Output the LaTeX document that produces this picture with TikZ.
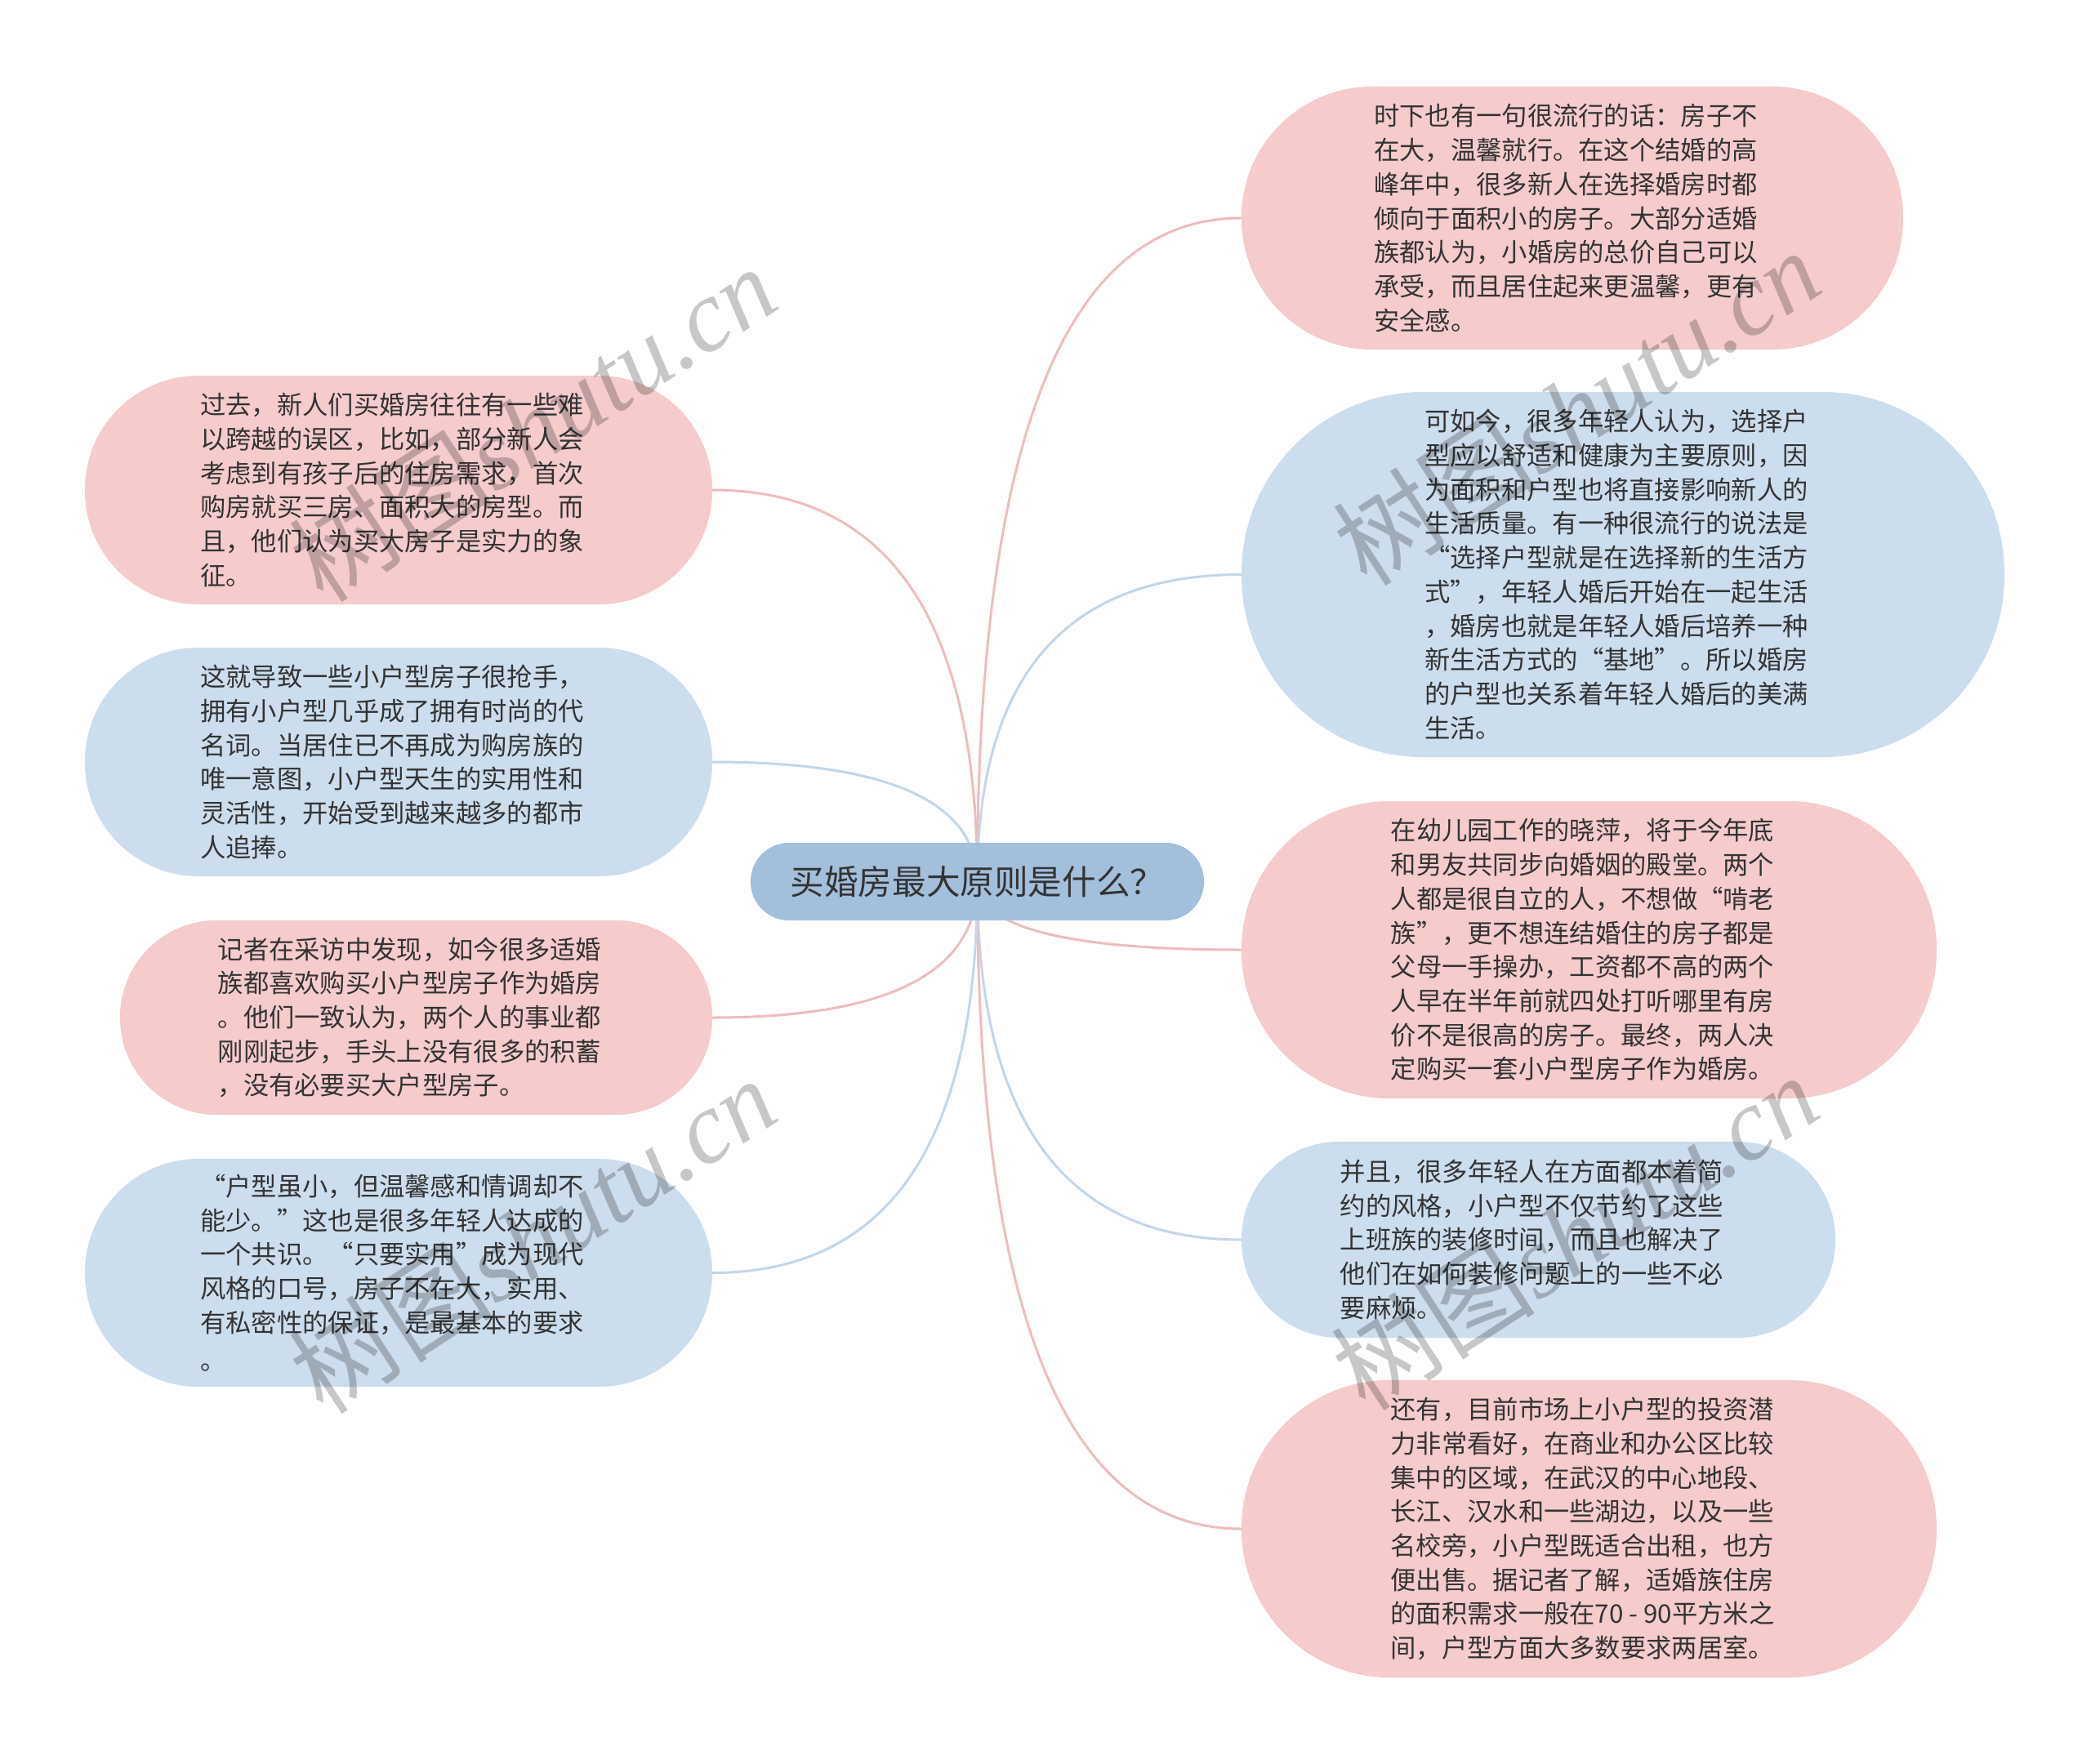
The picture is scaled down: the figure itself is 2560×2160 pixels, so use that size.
\documentclass[tikz,border=0pt]{standalone}
\usepackage{fontspec}
\newfontfamily\cjk{Noto Sans CJK SC}
\newfontfamily\wmlatin{Liberation Serif}
\usetikzlibrary{calc,backgrounds}
\definecolor{pinkfill}{HTML}{F5CBCC}
\definecolor{bluefill}{HTML}{CCDDED}
\definecolor{centerfill}{HTML}{A2BFDB}
\definecolor{pinkline}{HTML}{EDBDBE}
\definecolor{blueline}{HTML}{C3D7E9}
\definecolor{txt}{HTML}{333333}
\newcommand\mmbranch[2]{\draw[#1] (c.center) .. controls ($(c.center)!0.667!(c.center|-#2)$) and ($(#2)!0.667!(c.center|-#2)$) .. (#2);}
\newcommand\br{\rule{16pt}{0pt}\\}
\begin{document}
\begin{tikzpicture}[x=1pt,y=-1pt,
  leaf/.style={rectangle, inner sep=0pt, align=left, text=txt, font=\cjk\fontsize{31.3pt}{41.7pt}\selectfont},
  pinkleaf/.style={leaf, fill=pinkfill},
  blueleaf/.style={leaf, fill=bluefill},
  rootnode/.style={rectangle, inner sep=0pt, fill=centerfill, text=txt, font=\cjk\fontsize{41.6pt}{50pt}\selectfont},
  pinkedge/.style={draw=pinkline, line width=3pt},
  blueedge/.style={draw=blueline, line width=3pt},
  watermark/.style={text=black, opacity=0.22, rotate=33, inner sep=0pt, font=\fontsize{125pt}{130pt}\selectfont}]
\useasboundingbox (0,0) rectangle (2560,2160);

% root
\node[rootnode, minimum width=555pt, minimum height=95pt, rounded corners=47pt] (c) at (1196.5,1079.5) {买婚房最大原则是什么？};

% right side
\node[pinkleaf, minimum width=810pt, minimum height=322pt, rounded corners=160pt] (r1) at (1925,267) {时下也有一句很流行的话：房子不\br 在大，温馨就行。在这个结婚的高\br 峰年中，很多新人在选择婚房时都\br 倾向于面积小的房子。大部分适婚\br 族都认为，小婚房的总价自己可以\br 承受，而且居住起来更温馨，更有\br 安全感。};
\node[blueleaf, minimum width=934pt, minimum height=447pt, rounded corners=222pt] (r2) at (1987,703.5) {可如今，很多年轻人认为，选择户\br 型应以舒适和健康为主要原则，因\br 为面积和户型也将直接影响新人的\br 生活质量。有一种很流行的说法是\br “选择户型就是在选择新的生活方\br 式”，年轻人婚后开始在一起生活\br ，婚房也就是年轻人婚后培养一种\br 新生活方式的“基地”。所以婚房\br 的户型也关系着年轻人婚后的美满\br 生活。};
\node[pinkleaf, minimum width=851pt, minimum height=364pt, rounded corners=181pt] (r3) at (1945.5,1163) {在幼儿园工作的晓萍，将于今年底\br 和男友共同步向婚姻的殿堂。两个\br 人都是很自立的人，不想做“啃老\br 族”，更不想连结婚住的房子都是\br 父母一手操办，工资都不高的两个\br 人早在半年前就四处打听哪里有房\br 价不是很高的房子。最终，两人决\br 定购买一套小户型房子作为婚房。};
\node[blueleaf, minimum width=727pt, minimum height=240pt, rounded corners=119pt] (r4) at (1883.5,1518) {并且，很多年轻人在方面都本着简\br 约的风格，小户型不仅节约了这些\br 上班族的装修时间，而且也解决了\br 他们在如何装修问题上的一些不必\br 要麻烦。};
\node[pinkleaf, minimum width=851pt, minimum height=364pt, rounded corners=181pt] (r5) at (1945.5,1872) {还有，目前市场上小户型的投资潜\br 力非常看好，在商业和办公区比较\br 集中的区域，在武汉的中心地段、\br 长江、汉水和一些湖边，以及一些\br 名校旁，小户型既适合出租，也方\br 便出售。据记者了解，适婚族住房\br 的面积需求一般在70 - 90平方米之\br 间，户型方面大多数要求两居室。};

% left side
\node[pinkleaf, minimum width=768pt, minimum height=280pt, rounded corners=139pt] (l1) at (488,600) {过去，新人们买婚房往往有一些难\br 以跨越的误区，比如，部分新人会\br 考虑到有孩子后的住房需求，首次\br 购房就买三房、面积大的房型。而\br 且，他们认为买大房子是实力的象\br 征。};
\node[blueleaf, minimum width=768pt, minimum height=280pt, rounded corners=139pt] (l2) at (488,933) {这就导致一些小户型房子很抢手，\br 拥有小户型几乎成了拥有时尚的代\br 名词。当居住已不再成为购房族的\br 唯一意图，小户型天生的实用性和\br 灵活性，开始受到越来越多的都市\br 人追捧。};
\node[pinkleaf, minimum width=725pt, minimum height=238pt, rounded corners=118pt] (l3) at (509.5,1246) {记者在采访中发现，如今很多适婚\br 族都喜欢购买小户型房子作为婚房\br 。他们一致认为，两个人的事业都\br 刚刚起步，手头上没有很多的积蓄\br ，没有必要买大户型房子。};
\node[blueleaf, minimum width=768pt, minimum height=279pt, rounded corners=139pt] (l4) at (488,1558.5) {“户型虽小，但温馨感和情调却不\br 能少。”这也是很多年轻人达成的\br 一个共识。“只要实用”成为现代\br 风格的口号，房子不在大，实用、\br 有私密性的保证，是最基本的要求\rule{16pt}{0pt}\\[4pt]。};

\begin{scope}[on background layer]
\fill[white] (0,0) rectangle (2560,2160);
\mmbranch{pinkedge}{r1.west}
\mmbranch{blueedge}{r2.west}
\mmbranch{pinkedge}{r3.west}
\mmbranch{blueedge}{r4.west}
\mmbranch{pinkedge}{r5.west}
\mmbranch{pinkedge}{l1.east}
\mmbranch{blueedge}{l2.east}
\mmbranch{pinkedge}{l3.east}
\mmbranch{blueedge}{l4.east}
\end{scope}

% watermarks
\node[watermark] (wm1) at (652,518) {{\cjk 树图}{\wmlatin\itshape shutu.cn}};
\node[watermark] (wm2) at (1930,498) {{\cjk 树图}{\wmlatin\itshape shutu.cn}};
\node[watermark] (wm3) at (652,1512) {{\cjk 树图}{\wmlatin\itshape shutu.cn}};
\node[watermark] (wm4) at (1928,1508) {{\cjk 树图}{\wmlatin\itshape shutu.cn}};
\end{tikzpicture}
\end{document}
